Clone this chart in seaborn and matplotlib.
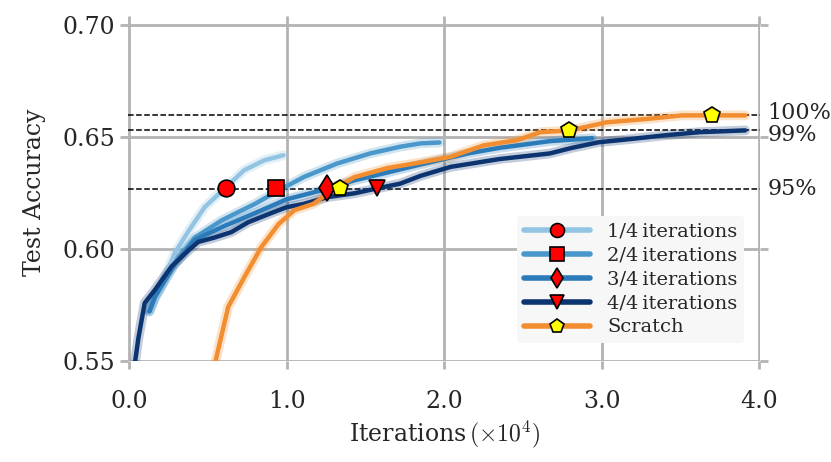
import numpy as np
import pandas as pd
import matplotlib
matplotlib.use("Agg")
import matplotlib.pyplot as plt
import seaborn as sns

# ---- data (x in 1e4 iterations) ----
x_q1 = [0.13, 0.20, 0.29, 0.38, 0.48, 0.61, 0.73, 0.86, 0.98]
y_q1 = [0.573, 0.582, 0.598, 0.608, 0.6185, 0.627, 0.635, 0.6395, 0.6417]

x_q2 = [0.13, 0.165, 0.29, 0.42, 0.59, 0.80, 0.95, 1.11, 1.32, 1.53, 1.72, 1.85, 1.97]
y_q2 = [0.572, 0.5785, 0.5936, 0.605, 0.6127, 0.620, 0.626, 0.632, 0.638, 0.6425, 0.6455, 0.647, 0.6474]

x_q3 = [0.13, 0.165, 0.29, 0.42, 0.59, 0.80, 1.00, 1.22, 1.43, 1.64, 1.85, 2.15, 2.35, 2.67, 2.94]
y_q3 = [0.572, 0.5785, 0.593, 0.604, 0.6096, 0.6159, 0.622, 0.626, 0.6305, 0.634, 0.6376, 0.6425, 0.645, 0.648, 0.6493]

x_q4 = [0.03, 0.06, 0.10, 0.165, 0.27, 0.38, 0.44, 0.545, 0.65, 0.757, 0.90, 1.00, 1.11, 1.26,
        1.43, 1.58, 1.72, 1.85, 2.04, 2.35, 2.67, 2.81, 2.98, 3.19, 3.40, 3.62, 3.91]
y_q4 = [0.545, 0.560, 0.5757, 0.5816, 0.592, 0.5994, 0.603, 0.605, 0.6074, 0.6118, 0.6158, 0.6185,
        0.620, 0.623, 0.6247, 0.627, 0.6290, 0.6325, 0.6365, 0.640, 0.6425, 0.645, 0.6475, 0.649,
        0.6506, 0.652, 0.6528]

x_sc = [0.52, 0.54, 0.63, 0.73, 0.84, 0.95, 1.05, 1.17, 1.32, 1.43, 1.64, 1.85, 2.04, 2.25,
        2.46, 2.61, 2.80, 3.03, 3.30, 3.51, 3.91]
y_sc = [0.540, 0.547, 0.574, 0.587, 0.6007, 0.611, 0.6172, 0.620, 0.6275, 0.6319, 0.6360, 0.6385,
        0.6410, 0.6461, 0.6484, 0.652, 0.6528, 0.6564, 0.658, 0.6595, 0.6595]

# marker positions where each run reaches the reference levels
mark_x = [0.618, 0.934, 1.255, 1.577]
mark_y = [0.627, 0.627, 0.627, 0.627]
scratch_mark_x = [1.34, 2.795, 3.70]
scratch_mark_y = [0.627, 0.653, 0.6595]

levels = [0.6595, 0.6530, 0.6265]
level_labels = ["100%", "99%", "95%"]

labels = ["1/4\u2009iterations", "2/4\u2009iterations", "3/4\u2009iterations",
          "4/4\u2009iterations", "Scratch"]
colors = ["#93c4e3", "#4a98cb", "#2b7bba", "#0c3470", "#f28e2f"]
markers = ["o", "s", "d", "v"]

frames = []
for name, xs, ys in zip(labels, [x_q1, x_q2, x_q3, x_q4, x_sc], [y_q1, y_q2, y_q3, y_q4, y_sc]):
    frames.append(pd.DataFrame({"iter": xs, "acc": ys, "run": name}))
df = pd.concat(frames, ignore_index=True)

sns.set_theme(style="whitegrid")
plt.rcParams["font.family"] = ["DejaVu Serif"]
plt.rcParams["mathtext.fontset"] = "cm"

fig, ax = plt.subplots(figsize=(8.31, 4.62), dpi=100)

# soft halo behind each curve
for name, c in zip(labels, colors):
    d = df[df["run"] == name]
    ax.plot(d["iter"], d["acc"], color=c, lw=7, alpha=0.25, solid_capstyle="round", zorder=2)

sns.lineplot(data=df, x="iter", y="acc", hue="run", palette=dict(zip(labels, colors)),
             lw=3.2, sort=False, legend=False, ax=ax, zorder=3)

label_offsets = [0.0009, -0.0022, 0.0]
for lv, lab, off in zip(levels, level_labels, label_offsets):
    ax.axhline(lv, color="black", ls="--", lw=1.1, zorder=1)
    ax.text(4.05, lv + off, lab, va="center", ha="left", fontsize=16, clip_on=False)

for i in range(4):
    ax.plot(mark_x[i], mark_y[i], marker=markers[i], ms=12 if markers[i] != "d" else 13,
            mfc="red", mec="black", mew=1.2, ls="none", zorder=5)
ax.plot(scratch_mark_x, scratch_mark_y, marker="p", ms=12, mfc="yellow", mec="black",
        mew=1.2, ls="none", zorder=5)

# legend proxies
handles = []
for i, (name, c) in enumerate(zip(labels, colors)):
    m = markers[i] if i < 4 else "p"
    fc = "red" if i < 4 else "yellow"
    h, = ax.plot([], [], color=c, lw=4, marker=m, ms=10, mfc=fc, mec="black", mew=1.2)
    handles.append(h)
ax.legend(handles, labels, loc="lower right", bbox_to_anchor=(0.99, 0.025), fontsize=14,
          frameon=True, facecolor="#f7f7f7", edgecolor="none", framealpha=1,
          handlelength=3.4, handletextpad=0.9, labelspacing=0.3, borderpad=0.35)

ax.set_xlim(-0.006, 4.006)
ax.set_ylim(0.5497, 0.7003)
ax.set_xticks([0, 1, 2, 3, 4])
ax.set_xticklabels(["0.0", "1.0", "2.0", "3.0", "4.0"])
ax.set_yticks([0.55, 0.60, 0.65, 0.70])
ax.set_yticklabels(["0.55", "0.60", "0.65", "0.70"])
ax.grid(True, color="#b3b3b3", lw=2)
for s in ax.spines.values():
    s.set_visible(False)
ax.tick_params(axis="both", which="major", length=6, width=2, color="#b3b3b3",
               direction="out", labelsize=17,
               top=True, right=True, left=True, bottom=True)
ax.tick_params(axis="x", labeltop=False, pad=15)
ax.tick_params(axis="y", labelright=False, pad=3)
ax.set_xlabel(r"Iterations$\,(\times 10^4)$", fontsize=17, labelpad=4)
ax.set_ylabel("Test Accuracy", fontsize=17, labelpad=12)

fig.subplots_adjust(left=0.154, right=0.915, top=0.948, bottom=0.218)
fig.savefig("out.png", dpi=100)
